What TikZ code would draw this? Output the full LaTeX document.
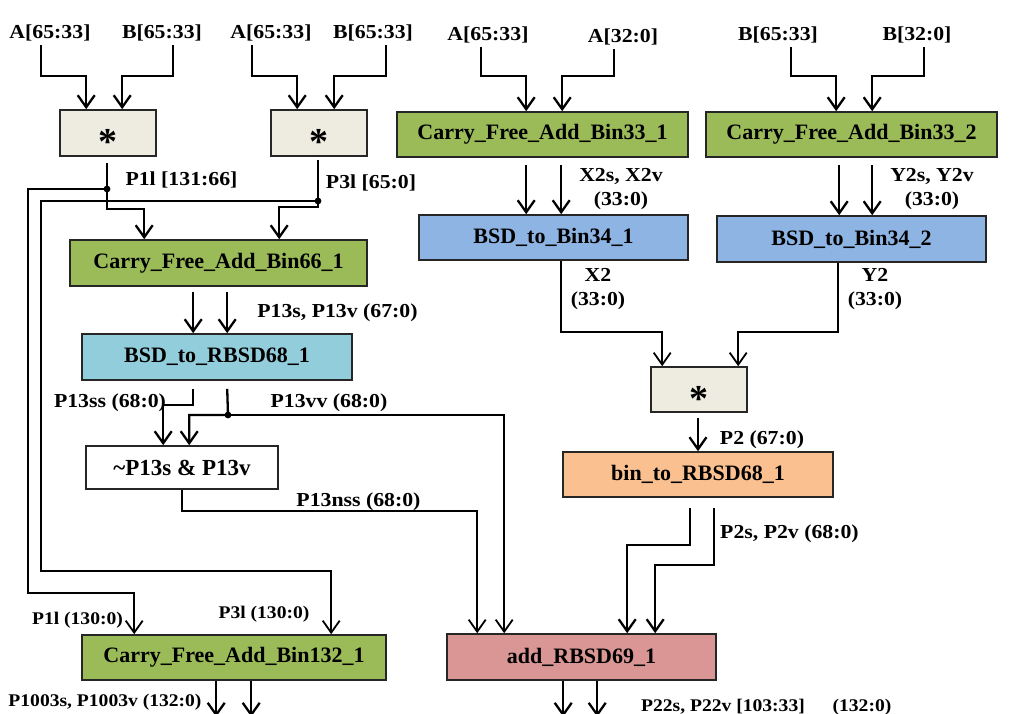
\documentclass[tikz,border=0pt]{standalone}
\usepackage{fontspec}
\setmainfont{Liberation Serif}
\newfontfamily\labfont{Liberation Serif}[FakeStretch=1.1]
\usetikzlibrary{arrows.meta,calc}
\definecolor{cbeige}{HTML}{EEECE1}
\definecolor{cgreen}{HTML}{9BBB59}
\definecolor{cblue}{HTML}{8DB4E2}
\definecolor{ccyan}{HTML}{92CDDC}
\definecolor{corange}{HTML}{FAC090}
\definecolor{cpink}{HTML}{D99694}
\newcommand{\mulstar}{\raisebox{-22pt}[0pt][0pt]{\makebox[0pt]{*}}}
\begin{document}
\begin{tikzpicture}[x=1pt,y=-1pt,
  box/.style={draw=black!85, line width=1.6pt, inner sep=0pt, font=\bfseries\fontsize{22}{26}\selectfont},
  mulbox/.style={box, fill=cbeige, minimum width=96pt, minimum height=46pt, font=\bfseries\fontsize{38}{38}\selectfont},
  lab/.style={inner sep=0pt, font=\labfont\bfseries\fontsize{19.8}{24}\selectfont, align=center},
  slab/.style={inner sep=0pt, font=\labfont\bfseries\fontsize{17.8}{20}\selectfont},
  ln/.style={line width=2.3pt},
  arr/.style={ln, -{Straight Barb[length=12pt,width=17pt]}},
  thin/.style={line width=1.8pt},
  tarr/.style={thin, -{Straight Barb[length=12pt,width=17pt]}}
]
\useasboundingbox (0,0) rectangle (1010,714);

% ---------- boxes ----------
\node[mulbox] (mul1) at (108,133) {\mulstar};
\node[mulbox] (mul2) at (319,133) {\mulstar};
\node[box, fill=cgreen, minimum width=291pt, minimum height=45pt] (cfa331) at (542.5,134.5) {Carry\_Free\_Add\_Bin33\_1};
\node[box, fill=cgreen, minimum width=291pt, minimum height=45pt] (cfa332) at (851.5,134.5) {Carry\_Free\_Add\_Bin33\_2};
\node[box, fill=cblue, minimum width=269pt, minimum height=45pt] (bsd341) at (553.5,237.5) {BSD\_to\_Bin34\_1};
\node[box, fill=cblue, minimum width=269pt, minimum height=46pt] (bsd342) at (851.5,239) {BSD\_to\_Bin34\_2};
\node[box, fill=cgreen, minimum width=297pt, minimum height=46pt] (cfa66) at (218.5,263) {Carry\_Free\_Add\_Bin66\_1};
\node[box, fill=ccyan, minimum width=270pt, minimum height=46pt] (rbsd68) at (217,357) {BSD\_to\_RBSD68\_1};
\node[box, fill=white, minimum width=192pt, minimum height=43pt, font=\bfseries\fontsize{23}{26}\selectfont] (notbox) at (182,467.5) {\textasciitilde P13s \& P13v};
\node[mulbox, minimum height=45pt] (mul3) at (699,389.5) {\mulstar};
\node[box, fill=corange, minimum width=270pt, minimum height=45pt] (bin68) at (698,474.5) {bin\_to\_RBSD68\_1};
\node[box, fill=cgreen, minimum width=304pt, minimum height=45pt] (cfa132) at (234,657.5) {Carry\_Free\_Add\_Bin132\_1};
\node[box, fill=cpink, minimum width=269pt, minimum height=46pt] (add69) at (581.5,657) {add\_RBSD69\_1};

% ---------- input labels ----------
\node[lab] (lA1) at (50,33) {A[65:33]};
\node[lab] (lB1) at (162,33) {B[65:33]};
\node[lab] (lA2) at (271,33) {A[65:33]};
\node[lab] (lB2) at (373,33) {B[65:33]};
\node[lab] (lA3) at (488,35) {A[65:33]};
\node[lab] (lA4) at (623,37) {A[32:0]};
\node[lab] (lB3) at (778,35) {B[65:33]};
\node[lab] (lB4) at (917,35) {B[32:0]};

% ---------- signal labels ----------
\node[lab] (tP1l) at (181.5,180) {P1l [131:66]};
\node[lab] (tP3l) at (371,183) {P3l [65:0]};
\node[lab] (tP13) at (337.5,313) {P13s, P13v (67:0)};
\node[lab] (tP13ss) at (110,403) {P13ss (68:0)};
\node[lab] (tP13vv) at (329,403) {P13vv (68:0)};
\node[lab] (tP13nss) at (358.5,502) {P13nss (68:0)};
\node[slab] (tP1lb) at (77.5,620) {P1l (130:0)};
\node[slab] (tP3lb) at (264,614) {P3l (130:0)};
\node[slab] (tP1003) at (105,702) {P1003s, P1003v (132:0)};
\node[lab] (tX2sv) at (621,189) {X2s, X2v\\(33:0)};
\node[lab] (tY2sv) at (932,189) {Y2s, Y2v\\(33:0)};
\node[lab] (tX2) at (598,289.5) {X2\\(33:0)};
\node[lab] (tY2) at (875,289.5) {Y2\\(33:0)};
\node[lab] (tP2) at (762,440) {P2 (67:0)};
\node[lab] (tP2sv) at (789.5,534) {P2s, P2v (68:0)};
\node[slab] (tP22) at (723,707) {P22s, P22v [103:33]};
\node[slab] (t132) at (862,707) {(132:0)};

% ---------- junction points ----------
\coordinate (d1) at (107,189);
\coordinate (d2) at (318,201);
\coordinate (d3) at (228,415);

% ---------- top inputs ----------
\draw[arr] ($(lA1.south)+(-9,4)$) |- ($(mul1.north west)+(27,-33)$) -- ($(mul1.north west)+(27,0)$);
\draw[arr] ($(lB1.south)+(11,4)$) |- ($(mul1.north west)+(63,-33)$) -- ($(mul1.north west)+(63,0)$);
\draw[arr] ($(lA2.south)+(-19,4)$) |- ($(mul2.north west)+(27,-33)$) -- ($(mul2.north west)+(27,0)$);
\draw[arr] ($(lB2.south)+(13,4)$) |- ($(mul2.north west)+(64,-33)$) -- ($(mul2.north west)+(64,0)$);
\draw[arr] ($(lA3.south)+(-7,4)$) |- ($(cfa331.north west)+(130,-35)$) -- ($(cfa331.north west)+(130,0)$);
\draw[arr] ($(lA4.south)+(-9,4)$) |- ($(cfa331.north west)+(166,-35)$) -- ($(cfa331.north west)+(166,0)$);
\draw[arr] ($(lB3.south)+(13,4)$) |- ($(cfa332.north west)+(131,-35)$) -- ($(cfa332.north west)+(131,0)$);
\draw[arr] ($(lB4.south)+(7,4)$) |- ($(cfa332.north west)+(167,-35)$) -- ($(cfa332.north west)+(167,0)$);

% ---------- multiplier outputs ----------
\draw[arr] ($(mul1.south)+(-1,6)$) -- (d1) |- ($(cfa66.north west)+(75,-30)$) -- ($(cfa66.north west)+(75,0)$);
\draw[arr] ($(mul2.south)+(-1,3)$) -- (d2) |- ($(cfa66.north west)+(210,-32)$) -- ($(cfa66.north west)+(210,0)$);
\draw[tarr] (d1) -| (28,593) -| ($(cfa132.north west)+(53,0)$);
\draw[tarr] (d2) -| (41,571) -| ($(cfa132.north west)+(250,0)$);
\fill (d1) circle (3.4pt);
\fill (d2) circle (3.4pt);

% ---------- left chain ----------
\draw[arr] ($(cfa66.south west)+(124,5)$) -- ($(rbsd68.north west)+(112,0)$);
\draw[arr] ($(cfa66.south west)+(158,5)$) -- ($(rbsd68.north west)+(146,0)$);
\draw[arr] ($(rbsd68.south west)+(112,8)$) |- ($(notbox.north west)+(78,-40)$) -- ($(notbox.north west)+(78,0)$);
\draw[arr] ($(rbsd68.south west)+(146,8)$) -- (d3) -| ($(notbox.north west)+(104,0)$);
\draw[tarr] (d3) -| ($(add69.north west)+(58,0)$);
\fill (d3) circle (3.4pt);
\draw[tarr] (notbox.south) |- ($(add69.north west)+(31,-122)$) -- ($(add69.north west)+(31,0)$);

% ---------- right chain ----------
\draw[arr] ($(cfa331.south west)+(130,7)$) -- ($(bsd341.north west)+(108,0)$);
\draw[arr] ($(cfa331.south west)+(165,7)$) -- ($(bsd341.north west)+(143,0)$);
\draw[arr] ($(cfa332.south west)+(134,7)$) -- ($(bsd342.north west)+(123,0)$);
\draw[arr] ($(cfa332.south west)+(167,7)$) -- ($(bsd342.north west)+(156,0)$);
\draw[tarr] ($(bsd341.south west)+(143,0)$) |- ($(mul3.north west)+(12,-34)$) -- ($(mul3.north west)+(12,0)$);
\draw[tarr] ($(bsd342.south west)+(122,0)$) |- ($(mul3.north west)+(88,-34)$) -- ($(mul3.north west)+(88,0)$);
\draw[arr] ($(mul3.south)+(-1,5)$) -- (bin68.north);
\draw[arr] ($(bin68.south west)+(128,10)$) |- ($(add69.north west)+(181,-88)$) -- ($(add69.north west)+(181,0)$);
\draw[arr] ($(bin68.south west)+(152,10)$) |- ($(add69.north west)+(209,-68)$) -- ($(add69.north west)+(209,0)$);

% ---------- bottom outputs ----------
\draw[arr] (cfa132.south west) ++(135,0) -- ++(0,36);
\draw[arr] (cfa132.south west) ++(170,0) -- ++(0,36);
\draw[arr] (add69.south west) ++(117,0) -- ++(0,36);
\draw[arr] (add69.south west) ++(151,0) -- ++(0,36);
\end{tikzpicture}
\end{document}
